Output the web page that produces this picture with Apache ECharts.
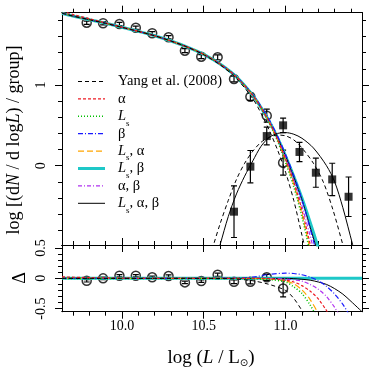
<!DOCTYPE html>
<html><head><meta charset="utf-8">
<script src="https://cdn.jsdelivr.net/npm/echarts@6/dist/echarts.min.js"></script>
<style>html,body{margin:0;padding:0;background:#fff}#c{width:374px;height:374px}</style>
</head><body><div id="c"></div>
<script>
// ---------- data ----------
const fitX        = [9.634, 9.7, 9.8, 9.9, 10.0, 10.1, 10.2, 10.3, 10.4, 10.5, 10.6, 10.7, 10.8, 10.85, 10.9, 10.95, 11.0, 11.05, 11.1, 11.15, 11.2, 11.25];
const fitYang     = [1.89, 1.855, 1.81, 1.765, 1.715, 1.665, 1.61, 1.545, 1.47, 1.375, 1.25, 1.08, 0.83, 0.65, 0.44, 0.20, -0.08, -0.43, -0.86, -1.30, -1.75, -2.2];
const fitAlpha    = [1.915, 1.875, 1.822, 1.77, 1.718, 1.665, 1.61, 1.545, 1.47, 1.38, 1.26, 1.10, 0.87, 0.72, 0.54, 0.33, 0.08, -0.20, -0.55, -0.97, -1.40, -1.85];
const fitLs       = [1.89, 1.855, 1.81, 1.765, 1.715, 1.665, 1.61, 1.545, 1.47, 1.38, 1.26, 1.10, 0.87, 0.715, 0.53, 0.31, 0.04, -0.26, -0.63, -1.08, -1.55, -2.0];
const fitBeta     = [1.89, 1.855, 1.81, 1.765, 1.715, 1.665, 1.61, 1.545, 1.47, 1.38, 1.26, 1.105, 0.88, 0.735, 0.57, 0.37, 0.14, -0.12, -0.42, -0.78, -1.16, -1.55];
const fitLsAlpha  = [1.89, 1.855, 1.81, 1.765, 1.715, 1.665, 1.61, 1.545, 1.47, 1.38, 1.26, 1.10, 0.87, 0.72, 0.54, 0.32, 0.06, -0.23, -0.60, -1.04, -1.5, -1.95];
const fitLsBeta   = [1.89, 1.855, 1.81, 1.765, 1.715, 1.665, 1.61, 1.545, 1.47, 1.38, 1.26, 1.10, 0.87, 0.72, 0.55, 0.35, 0.12, -0.13, -0.40, -0.70, -1.02, -1.36];
const fitAlphaBeta= [1.89, 1.855, 1.81, 1.765, 1.715, 1.665, 1.61, 1.545, 1.47, 1.38, 1.26, 1.10, 0.87, 0.72, 0.55, 0.34, 0.10, -0.18, -0.50, -0.87, -1.26, -1.68];
const fitAll      = [1.89, 1.855, 1.81, 1.765, 1.715, 1.665, 1.61, 1.545, 1.47, 1.38, 1.26, 1.10, 0.87, 0.72, 0.55, 0.35, 0.12, -0.14, -0.42, -0.76, -1.10, -1.45];

const bellSolidX = [10.58, 10.60, 10.65, 10.70, 10.75, 10.80, 10.85, 10.90, 10.95, 11.00, 11.05, 11.10, 11.17, 11.25, 11.30, 11.35, 11.41, 11.43];
const bellSolidY = [-1.12, -0.98, -0.63, -0.35, -0.13, 0.06, 0.24, 0.35, 0.40, 0.41, 0.39, 0.34, 0.22, 0.0, -0.2, -0.52, -0.98, -1.12];
const bellDashX  = [10.54, 10.56, 10.60, 10.65, 10.70, 10.75, 10.80, 10.85, 10.90, 10.95, 11.00, 11.05, 11.10, 11.17, 11.23, 11.29, 11.35, 11.37];
const bellDashY  = [-1.12, -0.98, -0.72, -0.43, -0.17, 0.03, 0.18, 0.29, 0.35, 0.38, 0.37, 0.32, 0.22, 0.03, -0.2, -0.55, -0.98, -1.12];

const circX   = [9.785, 9.885, 9.985, 10.085, 10.185, 10.285, 10.385, 10.485, 10.585, 10.685, 10.785, 10.885, 10.985];
const circY   = [1.772, 1.765, 1.756, 1.710, 1.641, 1.591, 1.425, 1.351, 1.343, 1.074, 0.855, 0.620, 0.037];
const circErr = [0.02, 0.02, 0.02, 0.02, 0.02, 0.02, 0.025, 0.025, 0.03, 0.035, 0.045, 0.08, 0.155];

const sqX   = [10.685, 10.785, 10.885, 10.985, 11.085, 11.185, 11.285, 11.385];
const sqY   = [-0.57, -0.012, 0.367, 0.50, 0.17, -0.087, -0.17, -0.385];
const sqErr = [0.32, 0.20, 0.11, 0.09, 0.12, 0.18, 0.20, 0.245];

const dCircY   = [-0.04, 0.0, 0.043, 0.043, 0.017, 0.038, -0.067, -0.045, 0.06, -0.057, -0.057, 0.017, -0.167];
const dCircErr = [0.02, 0.02, 0.02, 0.02, 0.02, 0.02, 0.02, 0.02, 0.025, 0.03, 0.035, 0.05, 0.14];

const dFitX       = [9.634, 9.8, 10.0, 10.2, 10.4, 10.6, 10.7, 10.8, 10.9, 11.0, 11.05, 11.1, 11.15, 11.2, 11.25, 11.3, 11.35, 11.4, 11.467];
const dYang       = [0, 0, 0, 0, 0, -0.003, -0.012, -0.04, -0.1, -0.2, -0.33, -0.53, -0.75, -1.0, -1.3, -1.6, -1.9, -2.2, -2.6];
const dAlpha      = [0.025, 0.012, 0.003, 0, 0, 0, 0, 0, -0.005, -0.03, -0.06, -0.12, -0.21, -0.34, -0.53, -0.75, -1.0, -1.3, -1.65];
const dLs         = [0, 0, 0, 0, 0, 0, 0, -0.003, -0.02, -0.06, -0.14, -0.25, -0.44, -0.68, -0.95, -1.25, -1.55, -1.9, -2.3];
const dBeta       = [0, 0, 0, 0, 0, 0.002, 0.006, 0.02, 0.065, 0.085, 0.08, 0.06, 0.02, -0.04, -0.13, -0.26, -0.43, -0.65, -0.95];
const dLsAlpha    = [0, 0, 0, 0, 0, 0, 0, -0.002, -0.012, -0.04, -0.09, -0.19, -0.35, -0.58, -0.85, -1.15, -1.45, -1.8, -2.2];
const dLsBeta     = [0, 0, 0, 0, 0, 0, 0, 0, 0, 0, 0, 0, 0, 0, 0, 0, 0, 0, 0];
const dAlphaBeta  = [0, 0, 0, 0, 0, 0, 0, 0, -0.003, -0.01, -0.025, -0.045, -0.1, -0.18, -0.3, -0.48, -0.7, -0.95, -1.3];
const dAll        = [0, 0, 0, 0, 0, 0, 0, 0, 0, 0, -0.005, -0.015, -0.03, -0.06, -0.1, -0.17, -0.26, -0.38, -0.55];

const xMajorTicks = [10.0, 10.5, 11.0];
const xMinorTicks = [9.7, 9.8, 9.9, 10.0, 10.1, 10.2, 10.3, 10.4, 10.5, 10.6, 10.7, 10.8, 10.9, 11.0, 11.1, 11.2, 11.3, 11.4];
const yMainMajor  = [0, 1];
const yMainMinor  = [-0.8, -0.6, -0.4, -0.2, 0, 0.2, 0.4, 0.6, 0.8, 1.0, 1.2, 1.4, 1.6, 1.8];
const yLowMajor   = [-0.5, 0, 0.5];
const yLowMinor   = [-0.5, -0.4, -0.3, -0.2, -0.1, 0, 0.1, 0.2, 0.3, 0.4, 0.5];

const legendNames = ['Yang et al. (2008)', '{g|α}', '{i|L}{s|s}', '{g|β}', '{i|L}{s|s}, {g|α}', '{i|L}{s|s}, {g|β}', '{g|α}, {g|β}', '{i|L}{s|s}, {g|α}, {g|β}'];

// ---------- styles ----------
const FONT = 'Liberation Serif';
const styles = [
  {color:'#000000', width:1,   type:[4,3]},
  {color:'#ee1c24', width:1.2, type:[3,2]},
  {color:'#00c000', width:1.6, type:[1,2]},
  {color:'#1a1aff', width:1.2, type:[5,2,1,2]},
  {color:'#ffa500', width:1.2, type:[6,3]},
  {color:'#1ec8c8', width:3,   type:'solid'},
  {color:'#b030f0', width:1.2, type:[4,2,1,2]},
  {color:'#000000', width:1,   type:'solid'}
];
const mainFits = [fitYang, fitAlpha, fitLs, fitBeta, fitLsAlpha, fitLsBeta, fitAlphaBeta, fitAll];
const lowFits  = [dYang, dAlpha, dLs, dBeta, dLsAlpha, dLsBeta, dAlphaBeta, dAll];
const drawOrder = [5, 7, 6, 4, 3, 2, 1, 0];

const XMIN = 9.634, XMAX = 11.467;
const YMIN = -0.983, YMAX = 1.896;
const DMIN = -0.55, DMAX = 0.55;

const zip = (xs, ys) => xs.map((x, i) => [x, ys[i]]);

function xAx(grid, pos, ticks, len, labels) {
  return {type:'value', gridIndex:grid, position:pos, min:XMIN, max:XMAX,
    axisLine:{show:true, onZero:false, lineStyle:{color:'#000', width:1}},
    axisTick:{show:true, inside:false, length:len, customValues:ticks, lineStyle:{color:'#000', width:1}},
    axisLabel: labels ? {show:true, customValues:xMajorTicks, formatter:v=>v.toFixed(1), fontFamily:FONT, fontSize:14, color:'#000', margin:8} : {show:false},
    splitLine:{show:false}};
}
function yAx(grid, pos, min, max, ticks, len, labels, fmt) {
  return {type:'value', gridIndex:grid, position:pos, min:min, max:max,
    axisLine:{show:true, onZero:false, lineStyle:{color:'#000', width:1}},
    axisTick:{show:true, inside:false, length:len, customValues:ticks, lineStyle:{color:'#000', width:1}},
    axisLabel: labels ? {show:true, customValues:labels, rotate:90, formatter:fmt, fontFamily:FONT, fontSize:14, color:'#000', margin:14} : {show:false},
    splitLine:{show:false}};
}

const xAxes = [
  xAx(0, 'bottom', xMajorTicks, 7, false), xAx(0, 'bottom', xMinorTicks, 4, false),
  xAx(0, 'top', xMajorTicks, 7, false),    xAx(0, 'top', xMinorTicks, 4, false),
  xAx(1, 'bottom', xMajorTicks, 7, true),  xAx(1, 'bottom', xMinorTicks, 4, false),
  xAx(1, 'top', xMajorTicks, 7, false),    xAx(1, 'top', xMinorTicks, 4, false)
];
const fmtMain = v => String(Math.round(v));
const fmtLow = v => (v === 0 ? '0' : v.toFixed(1));
const yAxes = [
  yAx(0, 'left', YMIN, YMAX, yMainMajor, 7, yMainMajor, fmtMain), yAx(0, 'left', YMIN, YMAX, yMainMinor, 4, null),
  yAx(0, 'right', YMIN, YMAX, yMainMajor, 7, null),               yAx(0, 'right', YMIN, YMAX, yMainMinor, 4, null),
  yAx(1, 'left', DMIN, DMAX, yLowMajor, 7, yLowMajor, fmtLow),     yAx(1, 'left', DMIN, DMAX, yLowMinor, 4, null),
  yAx(1, 'right', DMIN, DMAX, yLowMajor, 7, null),                 yAx(1, 'right', DMIN, DMAX, yLowMinor, 4, null)
];

function errRender(params, api) {
  const x = api.value(0), y = api.value(1), e = api.value(2);
  const t = api.coord([x, y + e]), b = api.coord([x, y - e]);
  const cw = 3, st = {stroke:'#000', lineWidth:1.2};
  return {type:'group', children:[
    {type:'line', shape:{x1:t[0], y1:t[1], x2:b[0], y2:b[1]}, style:st},
    {type:'line', shape:{x1:t[0]-cw, y1:t[1], x2:t[0]+cw, y2:t[1]}, style:st},
    {type:'line', shape:{x1:b[0]-cw, y1:b[1], x2:b[0]+cw, y2:b[1]}, style:st}
  ]};
}

const series = [];
drawOrder.forEach(k => {
  series.push({type:'line', xAxisIndex:0, yAxisIndex:0, data:zip(fitX, mainFits[k]), symbol:'none', smooth:0.3, clip:true, silent:true,
    lineStyle:{color:styles[k].color, width:styles[k].width, type:styles[k].type}});
});
series.push({type:'line', xAxisIndex:0, yAxisIndex:0, data:zip(bellDashX, bellDashY), symbol:'none', smooth:0.3, clip:true,
  lineStyle:{color:'#000', width:1, type:[4,3]}});
series.push({type:'line', xAxisIndex:0, yAxisIndex:0, data:zip(bellSolidX, bellSolidY), symbol:'none', smooth:0.3, clip:true,
  lineStyle:{color:'#000', width:1, type:'solid'}});
series.push({type:'custom', xAxisIndex:0, yAxisIndex:0, renderItem:errRender, clip:true, data:circX.map((x,i)=>[x, circY[i], circErr[i]])});
series.push({type:'custom', xAxisIndex:0, yAxisIndex:0, renderItem:errRender, clip:true, data:sqX.map((x,i)=>[x, sqY[i], sqErr[i]])});
series.push({type:'scatter', xAxisIndex:0, yAxisIndex:0, data:zip(circX, circY), symbol:'circle', symbolSize:9,
  itemStyle:{color:'rgba(0,0,0,0)', borderColor:'#000', borderWidth:1.5}});
series.push({type:'scatter', xAxisIndex:0, yAxisIndex:0, data:zip(sqX, sqY), symbol:'rect', symbolSize:8, itemStyle:{color:'#000'}});

drawOrder.forEach(k => {
  series.push({type:'line', xAxisIndex:4, yAxisIndex:4, data:zip(dFitX, lowFits[k]), symbol:'none', smooth:0.3, clip:true, silent:true,
    lineStyle:{color:styles[k].color, width:styles[k].width, type:styles[k].type}});
});
series.push({type:'custom', xAxisIndex:4, yAxisIndex:4, renderItem:errRender, clip:true, data:circX.map((x,i)=>[x, dCircY[i], dCircErr[i]])});
series.push({type:'scatter', xAxisIndex:4, yAxisIndex:4, data:zip(circX, dCircY), symbol:'circle', symbolSize:9,
  itemStyle:{color:'rgba(0,0,0,0)', borderColor:'#000', borderWidth:1.5}});

// legend & titles (graphic)
const rich = {
  g:{fontFamily:FONT, fontSize:14.5, fill:'#000'},
  i:{fontFamily:FONT, fontSize:14.5, fontStyle:'italic', fill:'#000'},
  s:{fontFamily:FONT, fontSize:9, fill:'#000', verticalAlign:'bottom', lineHeight:9, padding:[0,0,-4,0]}
};
const graphics = [];
legendNames.forEach((name, k) => {
  const y = 81.5 + 17.4 * k;
  graphics.push({type:'line', shape:{x1:78, y1:y, x2:105, y2:y}, style:{stroke:styles[k].color, lineWidth:styles[k].width,
    lineDash: styles[k].type === 'solid' ? null : styles[k].type}});
  graphics.push({type:'text', x:118, y:y, style:{text:name, rich:rich, fontFamily:FONT, fontSize:14.5, fill:'#000', verticalAlign:'middle', align:'left'}});
});
graphics.push({type:'text', x:14, y:140, rotation:Math.PI/2, style:{
  text:'log [(d{i|N} / d log{i|L}) / group]', rich:{i:{fontFamily:FONT, fontSize:18, fontStyle:'italic', fill:'#000'}},
  fontFamily:FONT, fontSize:18, fill:'#000', align:'center', verticalAlign:'middle'}});
graphics.push({type:'text', x:20, y:278, rotation:Math.PI/2, style:{
  text:'Δ', fontFamily:FONT, fontSize:18, fill:'#000', align:'center', verticalAlign:'middle'}});
graphics.push({type:'text', x:211, y:358, style:{
  text:'log ({i|L} / L{s|⊙})', rich:{i:{fontFamily:FONT, fontSize:19, fontStyle:'italic', fill:'#000'},
    s:{fontFamily:'DejaVu Sans', fontSize:10, fill:'#000', verticalAlign:'bottom', lineHeight:10, padding:[0,0,-1,0]}},
  fontFamily:FONT, fontSize:19, fill:'#000', align:'center', verticalAlign:'middle'}});

const chart = echarts.init(document.getElementById('c'), null, {renderer:'canvas'});
chart.setOption({
  animation:false,
  backgroundColor:'#fff',
  grid:[{left:62, right:12, top:12.7, height:232.3}, {left:62, right:12, top:245, height:66.7}],
  xAxis:xAxes, yAxis:yAxes, series:series, graphic:graphics
});
</script>
</body></html>
